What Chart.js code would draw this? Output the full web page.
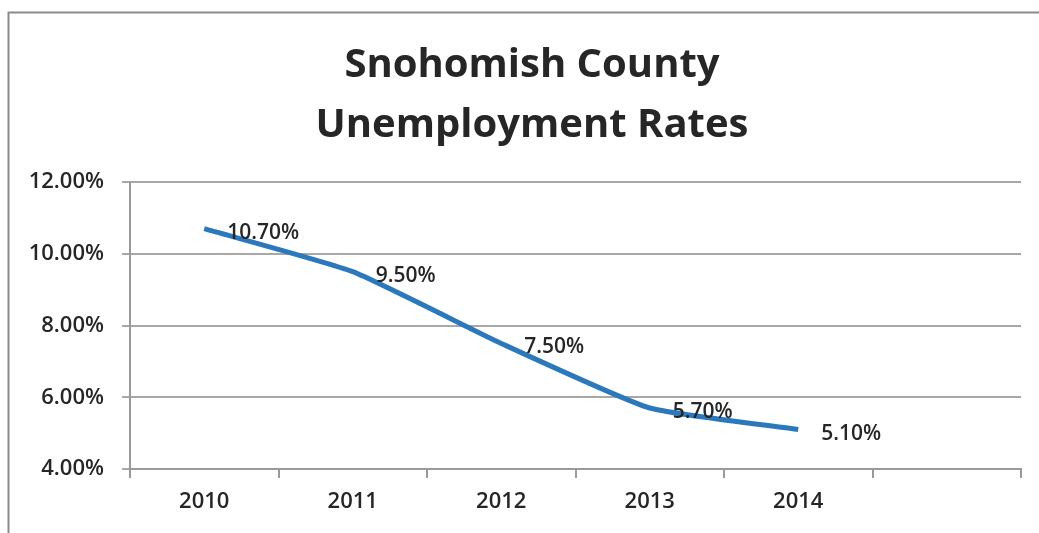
<!DOCTYPE html>
<html>
<head>
<meta charset="utf-8">
<script src="https://cdn.jsdelivr.net/npm/chart.js@4"></script>
<style>
html,body{margin:0;padding:0;background:#fff;}
#wrap{width:1039px;height:533px;position:relative;}
</style>
</head>
<body>
<div id="wrap"><canvas id="c" width="1039" height="533"></canvas></div>
<script>
const categories = ['2010', '2011', '2012', '2013', '2014', ''];
const rates = [10.7, 9.5, 7.5, 5.7, 5.1, null];
const yTicks = [4, 6, 8, 10, 12];
const titleLines = ['Snohomish County', 'Unemployment Rates'];

const FONT = '"Open Sans", Lato, sans-serif';

const framePlugin = {
  id: 'frame',
  beforeDraw(chart) {
    const ctx = chart.ctx;
    ctx.save();
    ctx.fillStyle = '#fff';
    ctx.fillRect(0, 0, chart.width, chart.height);
    ctx.strokeStyle = '#8a8a8a';
    ctx.lineWidth = 2;
    ctx.beginPath();
    ctx.moveTo(8.5, chart.height);
    ctx.lineTo(8.5, 12.5);
    ctx.lineTo(chart.width, 12.5);
    ctx.stroke();
    ctx.restore();
  }
};

const titlePlugin = {
  id: 'twoLineTitle',
  afterDraw(chart) {
    const ctx = chart.ctx;
    ctx.save();
    ctx.font = 'bold 40px ' + FONT;
    ctx.fillStyle = '#262626';
    ctx.textAlign = 'center';
    ctx.textBaseline = 'middle';
    titleLines.forEach((t, i) => ctx.fillText(t, 532, 66 + i * 60));
    ctx.restore();
  }
};

const labelPlugin = {
  id: 'pointLabels',
  afterDatasetsDraw(chart) {
    const ctx = chart.ctx;
    const meta = chart.getDatasetMeta(0);
    ctx.save();
    ctx.font = '600 21px ' + FONT;
    ctx.fillStyle = '#262626';
    ctx.textAlign = 'left';
    ctx.textBaseline = 'middle';
    meta.data.forEach((pt, i) => {
      const v = rates[i];
      if (v === null || v === undefined) return;
      ctx.fillText(v.toFixed(2) + '%', pt.x + 23, pt.y + 4);
    });
    ctx.restore();
  }
};

new Chart(document.getElementById('c'), {
  type: 'line',
  data: {
    labels: categories,
    datasets: [{
      data: rates,
      borderColor: '#2c78bd',
      borderWidth: 5,
      pointRadius: 0,
      tension: 0.15,
      fill: false
    }]
  },
  options: {
    responsive: false,
    animation: false,
    layout: { padding: { left: 8, right: 18, top: 182, bottom: 0 } },
    plugins: {
      legend: { display: false },
      tooltip: { enabled: false },
      title: { display: false }
    },
    scales: {
      x: {
        offset: true,
        grid: { offset: true, drawOnChartArea: false, color: '#9a9a9a', lineWidth: 2, tickLength: 9 },
        border: { display: true, color: '#9a9a9a', width: 2 },
        ticks: { color: '#262626', font: { family: FONT, size: 22, weight: '600' }, padding: 11, maxRotation: 0 },
        afterFit(s) { s.height = 64; }
      },
      y: {
        min: 4,
        max: 12,
        afterBuildTicks(s) { s.ticks = yTicks.map(v => ({ value: v })); },
        grid: { color: '#a8a8a8', lineWidth: 2, tickLength: 8 },
        border: { display: true, color: '#9a9a9a', width: 2 },
        ticks: {
          color: '#262626',
          font: { family: FONT, size: 22, weight: '600' },
          padding: 18,
          callback: v => Number(v).toFixed(2) + '%'
        },
        afterFit(s) { s.width = 122; }
      }
    }
  },
  plugins: [framePlugin, labelPlugin, titlePlugin]
});
</script>
</body>
</html>
